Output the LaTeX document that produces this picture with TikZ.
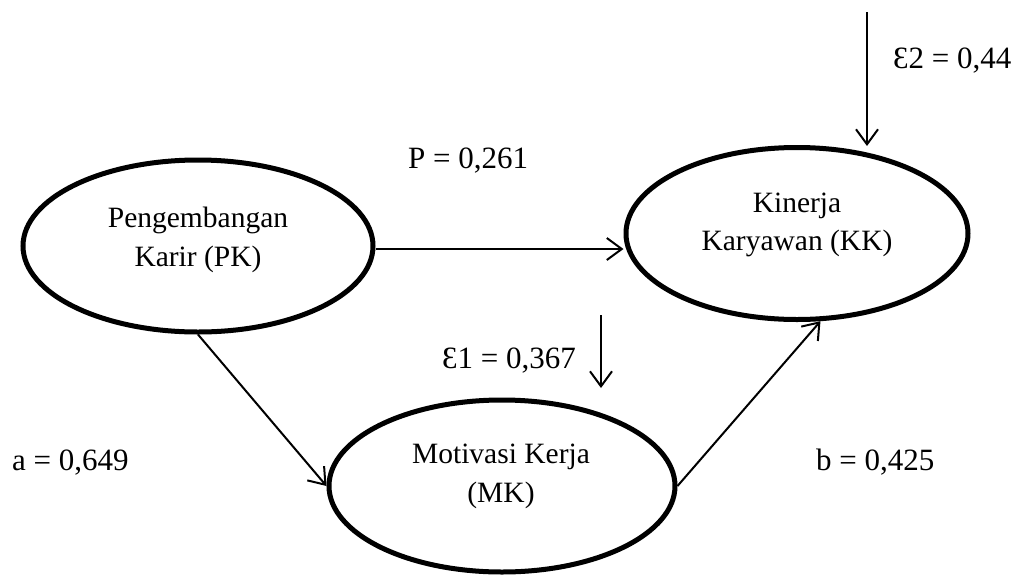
\documentclass[tikz,border=0pt]{standalone}
\usepackage{fontspec}
\setmainfont{Liberation Serif}
\usetikzlibrary{arrows.meta,shapes.geometric}
\begin{document}
\begin{tikzpicture}[x=1pt,y=-1pt,
  latent/.style={draw, ellipse, line width=5pt, minimum width=346pt, minimum height=172pt, inner sep=0pt},
  txt/.style={inner sep=0pt, anchor=base, font=\fontsize{29.5}{35}\selectfont},
  lbl/.style={inner sep=0pt, anchor=base west, font=\fontsize{31}{37}\selectfont},
  arr/.style={line width=2pt, -{Straight Barb[length=15pt,width=22pt,line width=2pt]}}]
\useasboundingbox (0,0) rectangle (1021,574);

% latent variables
\node[latent, minimum width=350pt] (pk) at (198,246) {};
\node[latent, minimum width=342pt] (kk) at (797,233.5) {};
\node[latent] (mk) at (502,486) {};

% ellipse texts
\node[txt] (pk1) at (198,227) {Pengembangan};
\node[txt] (pk2) at (198,266) {Karir (PK)};
\node[txt] (kk1) at (797,212) {Kinerja};
\node[txt] (kk2) at (797,250) {Karyawan (KK)};
\node[txt] (mk1) at (501,463) {Motivasi Kerja};
\node[txt] (mk2) at (501,502) {(MK)};

% coefficient labels
\node[lbl] (lp) at (408,168) {P = 0,261};
\node[lbl] (la) at (12,470) {a = 0,649};
\node[lbl] (lb) at (816,470) {b = 0,425};
\node[lbl] (le1) at (442,368) {Ɛ1 = 0,367};
\node[lbl] (le2) at (893,68) {Ɛ2 = 0,44};

% error arrows
\coordinate (e2a) at (867,12);
\coordinate (e2b) at (867,146);
\coordinate (e1a) at (601,315);
\coordinate (e1b) at (601,388);
\draw[arr] (e2a) -- (e2b);
\draw[arr] (e1a) -- (e1b);

% paths
\draw[arr] (pk.east) ++(0,3) coordinate (pkr) -- (pkr -| kk.west);
\draw[arr] (pk.south) -- (mk.west);
\draw[arr] (mk.east) -- (kk.-75);
\end{tikzpicture}
\end{document}
